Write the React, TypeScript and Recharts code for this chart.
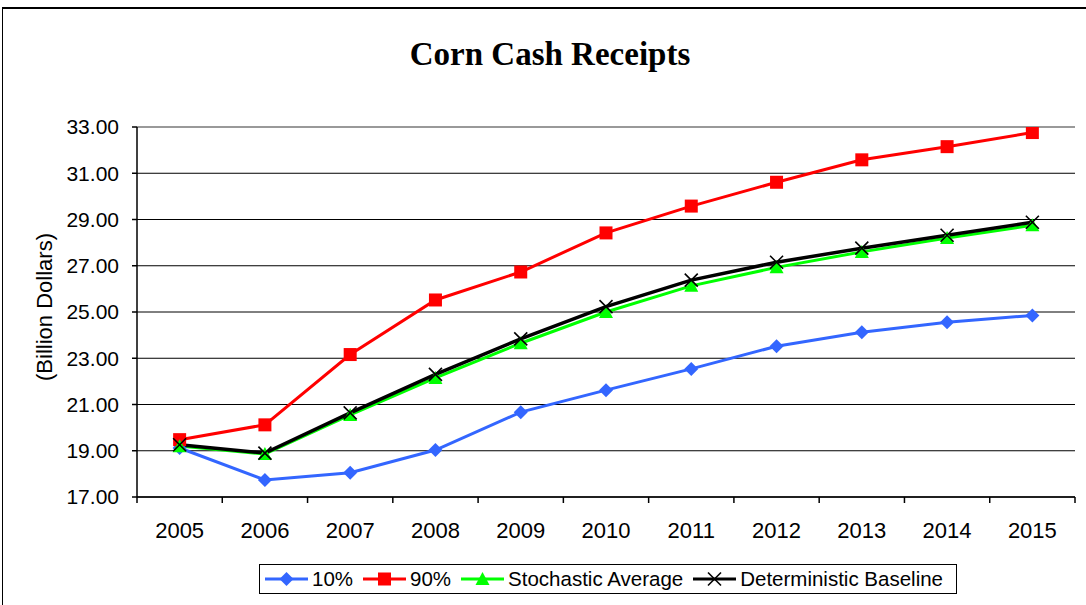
import React from "react";
import {
  CartesianGrid,
  Line,
  LineChart,
  ReferenceLine,
  XAxis,
  YAxis,
} from "recharts";

// values, billion dollars
const YEARS = ["2005", "2006", "2007", "2008", "2009", "2010", "2011", "2012", "2013", "2014", "2015"];
const P10 = [19.12, 17.74, 18.05, 19.03, 20.67, 21.62, 22.54, 23.52, 24.12, 24.56, 24.85];
const P90 = [19.48, 20.12, 23.16, 25.52, 26.73, 28.42, 29.58, 30.61, 31.58, 32.15, 32.76];
const STOCH_AVG = [19.2, 18.86, 20.55, 22.15, 23.65, 25.0, 26.13, 26.93, 27.6, 28.2, 28.75];
const DET_BASE = [19.26, 18.9, 20.64, 22.3, 23.84, 25.23, 26.38, 27.15, 27.76, 28.32, 28.88];

const Y_TICKS = [17, 19, 21, 23, 25, 27, 29, 31, 33];

const BLUE = "#3366FF";
const RED = "#FF0000";
const GREEN = "#00FF00";
const BLACK = "#000000";

const SANS = '"Liberation Sans", Arial, sans-serif';
const SERIF = '"Liberation Serif", "Times New Roman", serif';

// plot box
const W = 1086;
const H = 605;
const M = { top: 127, right: 11, bottom: 68, left: 0 };
const Y_AXIS_W = 137;
const X_AXIS_H = 40;
const STEP = (W - M.right - M.left - Y_AXIS_W) / YEARS.length;

const data = YEARS.map((year, i) => ({
  year,
  p10: P10[i],
  p90: P90[i],
  avg: STOCH_AVG[i],
  det: DET_BASE[i],
}));

// --- marker shapes ---
function Diamond({ cx, cy, r = 7 }: { cx: number; cy: number; r?: number }) {
  return (
    <polygon
      points={`${cx},${cy - r} ${cx + r},${cy} ${cx},${cy + r} ${cx - r},${cy}`}
      fill={BLUE}
    />
  );
}

function Square({ cx, cy, s = 13 }: { cx: number; cy: number; s?: number }) {
  return <rect x={cx - s / 2} y={cy - s / 2} width={s} height={s} fill={RED} />;
}

function Triangle({ cx, cy, r = 7 }: { cx: number; cy: number; r?: number }) {
  return (
    <polygon
      points={`${cx},${cy - r} ${cx + r},${cy + r - 1} ${cx - r},${cy + r - 1}`}
      fill={GREEN}
    />
  );
}

function Cross({ cx, cy, r = 6.5 }: { cx: number; cy: number; r?: number }) {
  return (
    <g stroke={BLACK} strokeWidth={1.6}>
      <line x1={cx - r} y1={cy - r} x2={cx + r} y2={cy + r} />
      <line x1={cx - r} y1={cy + r} x2={cx + r} y2={cy - r} />
    </g>
  );
}

const dotOf =
  (Shape: React.ComponentType<{ cx: number; cy: number }>, tag: string) =>
  (p: any) => (
    <g key={`${tag}-${p.index}`}>
      <Shape cx={p.cx} cy={p.cy} />
    </g>
  );

const LEGEND = [
  { label: "10%", color: BLUE, Shape: Diamond },
  { label: "90%", color: RED, Shape: Square },
  { label: "Stochastic Average", color: GREEN, Shape: Triangle },
  { label: "Deterministic Baseline", color: BLACK, Shape: Cross },
];

// year label + Excel-style tick marks between categories
function YearTick({ x, y, payload, index }: any) {
  const left = x - STEP / 2;
  const right = x + STEP / 2;
  return (
    <g>
      <line x1={left} y1={y} x2={left} y2={y + 6} stroke="#000" strokeWidth={1.5} />
      {index === YEARS.length - 1 && (
        <line x1={right} y1={y} x2={right} y2={y + 6} stroke="#000" strokeWidth={1.5} />
      )}
      <text
        x={x}
        y={y + 41}
        textAnchor="middle"
        fontFamily={SANS}
        fontSize={22}
        fill="#000"
      >
        {payload.value}
      </text>
    </g>
  );
}

function YLabel({ viewBox }: any) {
  const x = viewBox.x + 44;
  const y = viewBox.y + viewBox.height / 2 - 5;
  return (
    <text
      x={x}
      y={y}
      transform={`rotate(-90 ${x} ${y})`}
      textAnchor="middle"
      dominantBaseline="central"
      fontFamily={SANS}
      fontSize={22}
      fill="#000"
    >
      (Billion Dollars)
    </text>
  );
}

export default function App() {
  return (
    <div
      style={{
        position: "absolute",
        left: 0,
        top: 0,
        width: W,
        height: H,
        overflow: "hidden",
        background: "#fff",
        fontFamily: SANS,
      }}
    >
      {/* outer chart border, runs off the right/bottom edge */}
      <div
        style={{
          position: "absolute",
          left: 2,
          top: 7,
          width: 1200,
          height: 700,
          borderTop: "2px solid #000",
          borderLeft: "1.5px solid #000",
        }}
      />

      <div
        style={{
          position: "absolute",
          left: 0,
          right: 0,
          top: 36,
          textAlign: "center",
          paddingLeft: 14,
          fontFamily: SERIF,
          fontWeight: "bold",
          fontSize: 33,
          lineHeight: "36px",
        }}
      >
        Corn Cash Receipts
      </div>

      <div style={{ position: "absolute", left: 0, top: 0 }}>
        <LineChart width={W} height={H} data={data} margin={M}>
          <CartesianGrid vertical={false} stroke="#000" strokeWidth={1} />
          <XAxis
            dataKey="year"
            height={X_AXIS_H}
            padding={{ left: STEP / 2, right: STEP / 2 }}
            axisLine
            stroke="#000"
            strokeWidth={1.5}
            tickLine={false}
            tickSize={0}
            tickMargin={0}
            interval={0}
            tick={<YearTick />}
          />
          <YAxis
            width={Y_AXIS_W}
            domain={[17, 33]}
            ticks={Y_TICKS}
            allowDataOverflow
            tickFormatter={(v: number) => v.toFixed(2)}
            tick={{ fontSize: 21, fill: "#000", fontFamily: SANS }}
            tickSize={5}
            tickMargin={13}
            axisLine
            tickLine
            stroke="#000"
            strokeWidth={1.5}
            label={<YLabel />}
          />
          <YAxis
            yAxisId="right"
            orientation="right"
            width={0}
            domain={[17, 33]}
            tick={false}
            tickLine={false}
            axisLine
            stroke="#999"
            strokeWidth={2}
          />
          <ReferenceLine y={33} stroke="#999" strokeWidth={2} />

          <Line
            dataKey="p10"
            type="linear"
            stroke={BLUE}
            strokeWidth={3}
            dot={dotOf(Diamond, "p10")}
            activeDot={false}
            isAnimationActive={false}
          />
          <Line
            dataKey="p90"
            type="linear"
            stroke={RED}
            strokeWidth={3}
            dot={dotOf(Square, "p90")}
            activeDot={false}
            isAnimationActive={false}
          />
          <Line
            dataKey="avg"
            type="linear"
            stroke={GREEN}
            strokeWidth={3}
            dot={dotOf(Triangle, "avg")}
            activeDot={false}
            isAnimationActive={false}
          />
          <Line
            dataKey="det"
            type="linear"
            stroke={BLACK}
            strokeWidth={3.5}
            dot={dotOf(Cross, "det")}
            activeDot={false}
            isAnimationActive={false}
          />
        </LineChart>
      </div>

      {/* legend */}
      <div
        style={{
          position: "absolute",
          left: 259,
          top: 564,
          width: 698,
          height: 30,
          boxSizing: "border-box",
          border: "1.5px solid #000",
          display: "flex",
          alignItems: "center",
          paddingLeft: 5,
          fontSize: 20.5,
          color: "#000",
          whiteSpace: "nowrap",
        }}
      >
        {LEGEND.map(({ label, color, Shape }) => (
          <span key={label} style={{ display: "flex", alignItems: "center", marginRight: 10 }}>
            <svg width={43} height={20} style={{ marginRight: 4 }}>
              <line x1={0} y1={10} x2={43} y2={10} stroke={color} strokeWidth={3} />
              <Shape cx={21.5} cy={10} />
            </svg>
            {label}
          </span>
        ))}
      </div>
    </div>
  );
}
